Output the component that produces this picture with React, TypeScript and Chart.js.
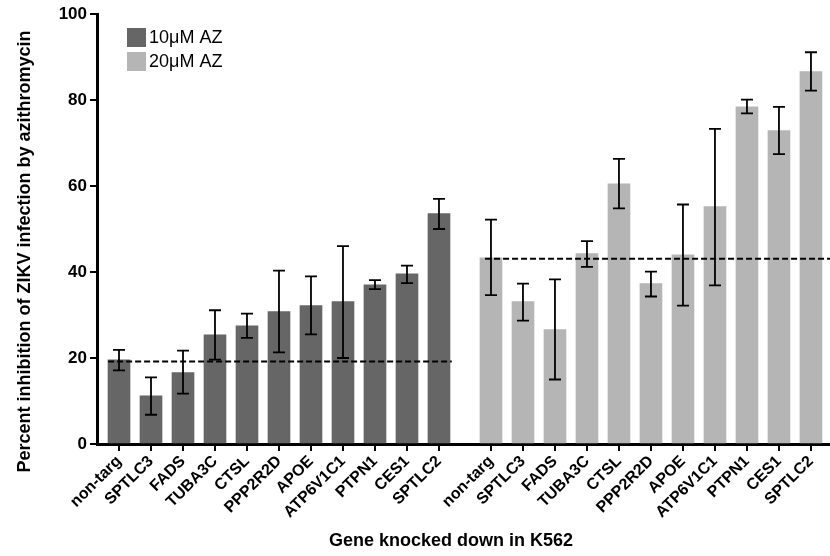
import React, { useEffect, useRef } from 'react';
import { Chart, registerables } from 'chart.js';

Chart.register(...registerables);

// ---- data ----
const genes = ['non-targ', 'SPTLC3', 'FADS', 'TUBA3C', 'CTSL', 'PPP2R2D', 'APOE', 'ATP6V1C1', 'PTPN1', 'CES1', 'SPTLC2'];

const az10Mean = [19.6, 11.2, 16.6, 25.4, 27.5, 30.8, 32.2, 33.1, 37.0, 39.6, 53.6];
const az10Upper = [21.9, 15.5, 21.7, 31.1, 30.3, 40.3, 39.0, 46.0, 38.1, 41.5, 57.0];
const az10Lower = [17.1, 6.8, 11.7, 19.6, 24.7, 21.3, 25.5, 20.0, 36.0, 37.4, 50.0];

const az20Mean = [43.3, 33.1, 26.6, 44.3, 60.5, 37.3, 44.0, 55.2, 78.4, 72.9, 86.6];
const az20Upper = [52.2, 37.3, 38.3, 47.2, 66.3, 40.1, 55.7, 73.3, 80.1, 78.4, 91.1];
const az20Lower = [34.6, 28.7, 15.0, 41.2, 54.8, 34.3, 32.2, 36.9, 76.9, 67.4, 82.2];

const az10Reference = 19.2;
const az20Reference = 43.1;

const seriesLabels = ['10μM AZ', '20μM AZ'];
const yTickValues = [0, 20, 40, 60, 80, 100];
const xAxisTitle = 'Gene knocked down in K562';
const yAxisTitle = 'Percent inhibition of ZIKV infection by azithromycin';

// ---- layout helpers (positions on a linear index axis) ----
const GROUP2_OFFSET = 11.625;
const pos10 = genes.map((_, i) => i);
const pos20 = genes.map((_, i) => i + GROUP2_OFFSET);
const allPositions = [...pos10, ...pos20];
const allLabels = [...genes, ...genes];

const DARK = '#666666';
const LIGHT = '#b5b5b5';
const FONT = "'Liberation Sans', Arial, Helvetica, sans-serif";

const errors = [
  { upper: az10Upper, lower: az10Lower },
  { upper: az20Upper, lower: az20Lower },
];

const errorBarPlugin = {
  id: 'errorBars',
  afterDatasetsDraw(chart: any) {
    const { ctx } = chart;
    const yScale = chart.scales.y;
    ctx.save();
    ctx.strokeStyle = '#000';
    ctx.lineWidth = 1.8;
    const cap = 6;
    [0, 1].forEach((di) => {
      const meta = chart.getDatasetMeta(di);
      meta.data.forEach((bar: any, j: number) => {
        const x = bar.x;
        const yHi = yScale.getPixelForValue(errors[di].upper[j]);
        const yLo = yScale.getPixelForValue(errors[di].lower[j]);
        ctx.beginPath();
        ctx.moveTo(x, yHi);
        ctx.lineTo(x, yLo);
        ctx.moveTo(x - cap, yHi);
        ctx.lineTo(x + cap, yHi);
        ctx.moveTo(x - cap, yLo);
        ctx.lineTo(x + cap, yLo);
        ctx.stroke();
      });
    });
    ctx.restore();
  },
};

const insideLegendPlugin = {
  id: 'insideLegend',
  afterDatasetsDraw(chart: any) {
    const { ctx, chartArea } = chart;
    ctx.save();
    const box = 19;
    const x0 = chartArea.left + 30;
    let y = chartArea.top + 14;
    [0, 1].forEach((di) => {
      const ds = chart.data.datasets[di];
      ctx.fillStyle = ds.backgroundColor;
      ctx.fillRect(x0, y, box, box);
      ctx.fillStyle = '#000';
      ctx.font = `18px ${FONT}`;
      ctx.textBaseline = 'middle';
      ctx.textAlign = 'left';
      ctx.fillText(ds.label, x0 + box + 3, y + box / 2 + 1);
      y += 24;
    });
    ctx.restore();
  },
};

export default function App() {
  const canvasRef = useRef<HTMLCanvasElement | null>(null);

  useEffect(() => {
    if (!canvasRef.current) return;
    const chart = new Chart(canvasRef.current, {
      type: 'bar',
      data: {
        datasets: [
          {
            label: seriesLabels[0],
            data: az10Mean.map((v, i) => ({ x: pos10[i], y: v })),
            backgroundColor: DARK,
            barThickness: 22,
            grouped: false,
            order: 2,
          } as any,
          {
            label: seriesLabels[1],
            data: az20Mean.map((v, i) => ({ x: pos20[i], y: v })),
            backgroundColor: LIGHT,
            barThickness: 22,
            grouped: false,
            order: 2,
          } as any,
          {
            type: 'line',
            label: 'ref10',
            data: [
              { x: -0.34, y: az10Reference },
              { x: 10.4, y: az10Reference },
            ],
            borderColor: '#000',
            borderWidth: 2,
            borderDash: [6, 3],
            pointRadius: 0,
            fill: false,
            order: 0,
          } as any,
          {
            type: 'line',
            label: 'ref20',
            data: [
              { x: 11.44, y: az20Reference },
              { x: 22.4, y: az20Reference },
            ],
            borderColor: '#000',
            borderWidth: 2,
            borderDash: [6, 3],
            pointRadius: 0,
            fill: false,
            order: 0,
          } as any,
        ],
      },
      options: {
        animation: false,
        responsive: false,
        layout: { padding: { top: 14, right: 0, left: 0, bottom: 0 } },
        plugins: {
          legend: { display: false },
          tooltip: { enabled: false },
        },
        scales: {
          x: {
            type: 'linear',
            min: -0.6875,
            max: 22.22,
            offset: false,
            afterBuildTicks: (scale: any) => {
              scale.ticks = allPositions.map((v) => ({ value: v }));
            },
            afterFit: (scale: any) => {
              scale.height = 112;
              scale.paddingRight = 0;
              scale.paddingLeft = 0;
            },
            ticks: {
              autoSkip: false,
              maxRotation: 45,
              minRotation: 45,
              padding: 1,
              color: '#000',
              font: { family: FONT, size: 16, weight: 'bold' },
              callback: (_v: any, i: number) => allLabels[i],
            },
            grid: {
              display: true,
              drawOnChartArea: false,
              drawTicks: true,
              tickLength: 7,
              color: '#000',
              lineWidth: 2,
              offset: false,
            },
            border: { display: true, color: '#000', width: 3 },
            title: {
              display: true,
              text: xAxisTitle + '     ',
              color: '#000',
              font: { family: FONT, size: 18, weight: 'bold' },
              padding: { top: 0, bottom: 4 },
            },
          } as any,
          y: {
            type: 'linear',
            min: 0,
            max: 100,
            afterBuildTicks: (scale: any) => {
              scale.ticks = yTickValues.map((v) => ({ value: v }));
            },
            afterFit: (scale: any) => {
              scale.width = 97;
            },
            ticks: {
              padding: 3,
              color: '#000',
              font: { family: FONT, size: 17, weight: 'bold' },
            },
            grid: {
              display: true,
              drawOnChartArea: false,
              drawTicks: true,
              tickLength: 7,
              color: '#000',
              lineWidth: 2,
            },
            border: { display: true, color: '#000', width: 3 },
            title: {
              display: true,
              text: yAxisTitle + '         ',
              color: '#000',
              font: { family: FONT, size: 18, weight: 'bold' },
              padding: { top: 14, bottom: 0 },
            },
          } as any,
        },
      },
      plugins: [errorBarPlugin, insideLegendPlugin],
    });
    return () => chart.destroy();
  }, []);

  return (
    <div style={{ position: 'absolute', left: 0, top: 0, width: 830, height: 556 }}>
      <canvas ref={canvasRef} width={830} height={556} style={{ display: 'block' }} />
    </div>
  );
}
